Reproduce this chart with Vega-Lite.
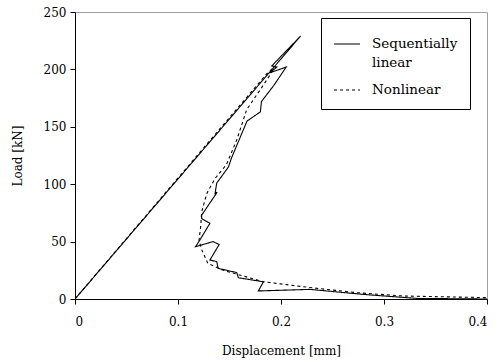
{
  "$schema": "https://vega.github.io/schema/vega-lite/v6.json",
  "width": 412,
  "height": 287,
  "autosize": {"type": "none"},
  "padding": {"left": 75, "top": 12, "right": 13, "bottom": 63},
  "background": "white",
  "config": {
    "view": {"stroke": "#a0a0a0", "strokeWidth": 1},
    "font": "DejaVu Serif",
    "axis": {
      "domainColor": "black",
      "tickColor": "black",
      "labelColor": "black",
      "titleColor": "black",
      "grid": false,
      "labelFont": "DejaVu Serif",
      "titleFont": "DejaVu Serif",
      "labelFontSize": 12,
      "titleFontSize": 12,
      "titleFontWeight": "normal",
      "tickSize": 5
    }
  },
  "data": {
    "values": [
      {"s": "Sequentially linear", "i": 0, "d": 0.0, "load": 0},
      {"s": "Sequentially linear", "i": 1, "d": 0.219, "load": 229},
      {"s": "Sequentially linear", "i": 2, "d": 0.191, "load": 203},
      {"s": "Sequentially linear", "i": 3, "d": 0.196, "load": 202},
      {"s": "Sequentially linear", "i": 4, "d": 0.189, "load": 197},
      {"s": "Sequentially linear", "i": 5, "d": 0.205, "load": 202},
      {"s": "Sequentially linear", "i": 6, "d": 0.193, "load": 186},
      {"s": "Sequentially linear", "i": 7, "d": 0.181, "load": 172},
      {"s": "Sequentially linear", "i": 8, "d": 0.18, "load": 163},
      {"s": "Sequentially linear", "i": 9, "d": 0.167, "load": 155},
      {"s": "Sequentially linear", "i": 10, "d": 0.16, "load": 140},
      {"s": "Sequentially linear", "i": 11, "d": 0.152, "load": 123},
      {"s": "Sequentially linear", "i": 12, "d": 0.149, "load": 115},
      {"s": "Sequentially linear", "i": 13, "d": 0.1376, "load": 101},
      {"s": "Sequentially linear", "i": 14, "d": 0.136, "load": 92},
      {"s": "Sequentially linear", "i": 15, "d": 0.138, "load": 93},
      {"s": "Sequentially linear", "i": 16, "d": 0.123, "load": 73},
      {"s": "Sequentially linear", "i": 17, "d": 0.123, "load": 70},
      {"s": "Sequentially linear", "i": 18, "d": 0.131, "load": 66},
      {"s": "Sequentially linear", "i": 19, "d": 0.121, "load": 51},
      {"s": "Sequentially linear", "i": 20, "d": 0.117, "load": 45.5},
      {"s": "Sequentially linear", "i": 21, "d": 0.134, "load": 50},
      {"s": "Sequentially linear", "i": 22, "d": 0.14, "load": 47.5},
      {"s": "Sequentially linear", "i": 23, "d": 0.131, "load": 34},
      {"s": "Sequentially linear", "i": 24, "d": 0.1376, "load": 32.5},
      {"s": "Sequentially linear", "i": 25, "d": 0.139, "load": 26.7},
      {"s": "Sequentially linear", "i": 26, "d": 0.157, "load": 23},
      {"s": "Sequentially linear", "i": 27, "d": 0.1586, "load": 18.5},
      {"s": "Sequentially linear", "i": 28, "d": 0.183, "load": 15},
      {"s": "Sequentially linear", "i": 29, "d": 0.178, "load": 7},
      {"s": "Sequentially linear", "i": 30, "d": 0.228, "load": 8.4},
      {"s": "Sequentially linear", "i": 31, "d": 0.28, "load": 4},
      {"s": "Sequentially linear", "i": 32, "d": 0.332, "load": 0.5},
      {"s": "Sequentially linear", "i": 33, "d": 0.4, "load": 0},
      {"s": "Nonlinear", "i": 0, "d": 0.0, "load": 0},
      {"s": "Nonlinear", "i": 1, "d": 0.186, "load": 196},
      {"s": "Nonlinear", "i": 2, "d": 0.192, "load": 201},
      {"s": "Nonlinear", "i": 3, "d": 0.19, "load": 196},
      {"s": "Nonlinear", "i": 4, "d": 0.1796, "load": 182},
      {"s": "Nonlinear", "i": 5, "d": 0.1667, "load": 165},
      {"s": "Nonlinear", "i": 6, "d": 0.157, "load": 138.5},
      {"s": "Nonlinear", "i": 7, "d": 0.147, "load": 117},
      {"s": "Nonlinear", "i": 8, "d": 0.136, "load": 105},
      {"s": "Nonlinear", "i": 9, "d": 0.128, "load": 92},
      {"s": "Nonlinear", "i": 10, "d": 0.123, "load": 76},
      {"s": "Nonlinear", "i": 11, "d": 0.122, "load": 63},
      {"s": "Nonlinear", "i": 12, "d": 0.1204, "load": 51},
      {"s": "Nonlinear", "i": 13, "d": 0.123, "load": 43},
      {"s": "Nonlinear", "i": 14, "d": 0.129, "load": 31},
      {"s": "Nonlinear", "i": 15, "d": 0.144, "load": 25},
      {"s": "Nonlinear", "i": 16, "d": 0.183, "load": 15},
      {"s": "Nonlinear", "i": 17, "d": 0.228, "load": 10},
      {"s": "Nonlinear", "i": 18, "d": 0.2735, "load": 5.5},
      {"s": "Nonlinear", "i": 19, "d": 0.319, "load": 2.6},
      {"s": "Nonlinear", "i": 20, "d": 0.4, "load": 1.2}
    ]
  },
  "mark": {"type": "line", "color": "black", "strokeWidth": 1.1, "clip": true},
  "encoding": {
    "x": {
      "field": "d", "type": "quantitative",
      "scale": {"domain": [0, 0.4], "nice": false},
      "axis": {"values": [0, 0.1, 0.2, 0.3, 0.4], "format": "~g", "title": "Displacement [mm]", "labelPadding": 12, "titlePadding": 18}
    },
    "y": {
      "field": "load", "type": "quantitative",
      "scale": {"domain": [0, 250], "nice": false},
      "axis": {"values": [0, 50, 100, 150, 200, 250], "title": "Load [kN]", "labelPadding": 4, "titlePadding": 19}
    },
    "order": {"field": "i", "type": "quantitative"},
    "strokeDash": {
      "field": "s", "type": "nominal",
      "scale": {"domain": ["Sequentially linear", "Nonlinear"], "range": [[1, 0], [3, 3]]},
      "legend": {
        "title": null,
        "orient": "none",
        "legendX": 246,
        "legendY": 6,
        "strokeColor": "black",
        "fillColor": "white",
        "padding": 12,
        "symbolType": "stroke",
        "symbolStrokeColor": "black",
        "symbolStrokeWidth": 1.1,
        "symbolSize": 676,
        "labelFont": "DejaVu Serif",
        "labelFontSize": 13.5,
        "labelColor": "black",
        "labelOffset": 11,
        "rowPadding": 6,
        "labelExpr": "datum.label == 'Sequentially linear' ? ['Sequentially\u2002\u2002\u2002', 'linear'] : datum.label",
        "encode": {"labels": {"update": {"lineHeight": {"value": 19}}}}
      }
    }
  }
}
